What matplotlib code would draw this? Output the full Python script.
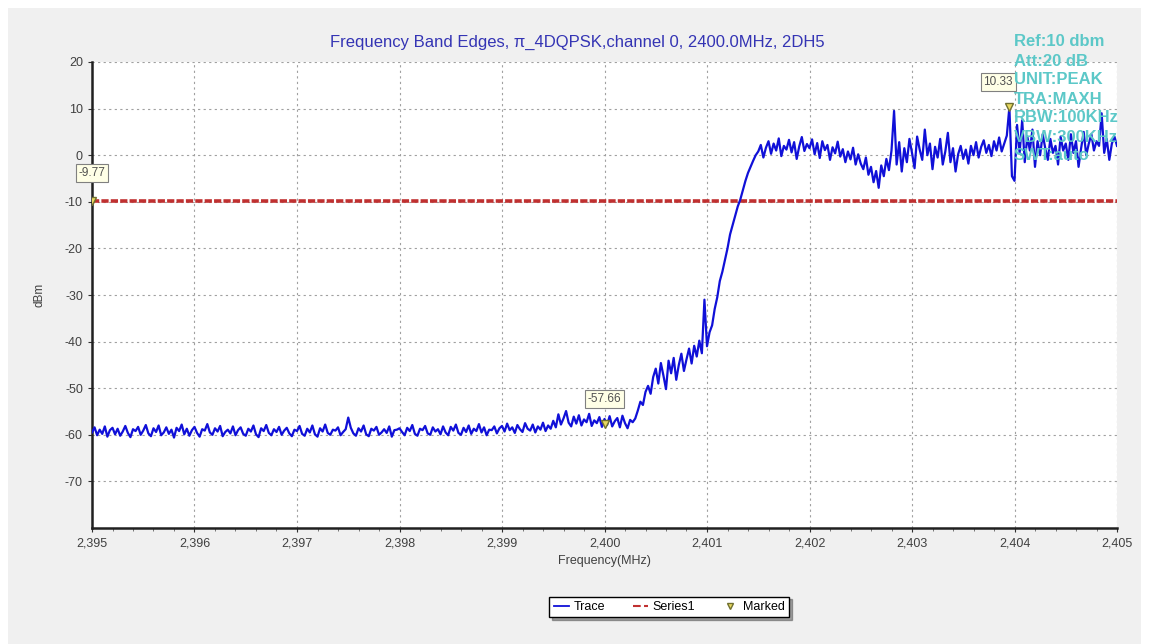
import numpy as np
import matplotlib
matplotlib.use("Agg")
import matplotlib.pyplot as plt
from matplotlib.lines import Line2D
from matplotlib.patches import Rectangle
from matplotlib.ticker import FuncFormatter, MultipleLocator

plt.rcParams['font.family'] = ['Liberation Sans', 'DejaVu Sans']
plt.rcParams['axes.unicode_minus'] = False

# trace, sampled every 0.000025 MHz from 2.395 to 2.405 (one row = 0.0005 MHz)
f_start = 2.395
f_step = 0.000025
trace_dbm = [
    -59.5, -58.4, -60.1, -58.9, -59.8, -58.2, -60.4, -59.0, -58.5, -59.9, -58.7, -60.2, -59.3, -58.1, -59.6, -60.5, -58.8, -59.2, -58.3, -60.0,
    -59.1, -57.9, -59.7, -60.3, -58.6, -59.4, -58.0, -60.1, -59.5, -58.4, -59.8, -58.9, -60.6, -58.5, -59.2, -57.8, -59.9, -58.7, -60.2, -59.0,
    -58.3, -59.6, -60.4, -58.8, -59.1, -57.7, -59.5, -60.0, -58.6, -59.3, -58.1, -60.3, -59.4, -58.9, -59.7, -58.2, -60.1, -59.0, -58.4, -59.8,
    -60.2, -58.7, -59.3, -58.0, -59.9, -60.5, -58.6, -59.2, -57.9, -59.6, -60.1, -58.8, -59.4, -58.3, -60.0, -59.1, -58.5, -59.7, -60.3, -58.9,
    -59.2, -58.1, -59.8, -60.2, -58.7, -59.5, -58.0, -59.9, -60.4, -58.6, -59.3, -57.8, -59.6, -60.0, -58.9, -59.1, -58.4, -60.1, -59.4, -58.8,
    -56.3, -58.5, -59.7, -60.2, -58.6, -59.3, -58.0, -59.9, -60.3, -58.7, -59.1, -58.3, -60.0, -59.5, -58.8, -59.6, -58.2, -60.4, -59.0, -58.9,
    -58.6, -59.4, -60.1, -58.5, -59.2, -57.9, -59.8, -60.2, -58.7, -59.0, -58.1, -59.7, -60.0, -58.4, -59.3, -58.8, -59.9, -58.2, -59.5, -60.1,
    -58.3, -59.1, -57.8, -59.6, -60.0, -58.5, -59.4, -58.0, -59.8, -58.7, -59.2, -57.7, -59.5, -58.4, -60.1, -58.9, -59.0, -58.2, -59.7, -58.6,
    -58.1, -59.3, -57.6, -59.0, -58.4, -59.6, -57.9, -58.8, -59.4, -57.5, -58.7, -59.1, -57.8, -59.5, -58.2, -58.9, -57.4, -59.2, -58.0, -58.7,
    -57.0, -58.4, -55.6, -57.8, -56.5, -54.9, -57.4, -58.2, -56.1, -57.6, -55.8, -58.0, -56.7, -57.3, -55.5, -58.1, -56.9, -57.5, -56.2, -58.3,
    -56.6, -57.9, -56.0, -58.2, -57.1, -56.4, -58.4, -55.9, -57.5, -58.6, -56.8, -57.3, -56.5, -54.8, -52.9, -53.6, -50.8, -49.5, -51.2, -47.6,
    -45.8, -49.0, -44.6, -47.3, -50.2, -44.1, -46.8, -43.5, -48.2, -45.0, -42.6, -46.3, -43.8, -41.5, -44.7, -40.9, -43.2, -39.8, -42.5, -31.0,
    -41.0, -38.0, -36.5, -33.0, -30.5, -27.0, -25.0, -22.5, -20.0, -17.0, -15.0, -13.0, -11.0, -9.5, -7.5, -5.5, -3.8, -2.5, -1.2, 0.0,
    0.8, 2.2, -0.5, 1.6, 3.0, 0.3, 2.5, 1.0, 3.6, -0.2, 2.0, 1.2, 3.3, 0.6, 2.8, -0.8, 1.9, 3.9, 0.9, 2.4,
    1.5, 3.4, 0.2, 2.6, -0.6, 3.0, 1.1, 2.2, -1.0, 1.7, 0.4, 2.9, -0.3, 1.3, -1.5, 0.8, -0.9, 1.6, -2.0, 0.2,
    -1.8, -3.0, -0.5, -4.2, -2.5, -5.8, -3.4, -7.0, -2.2, -4.5, -0.8, -3.2, 1.0, 9.5, -2.0, 2.8, -3.5, 1.5, -1.5, 3.5,
    0.5, -2.8, 4.0, 1.2, -1.0, 5.5, 0.0, 2.5, -3.0, 1.8, -0.5, 3.5, -2.0, 0.8, 4.8, -1.5, 1.5, -3.5, 0.2, 2.0,
    -0.8, 1.2, -1.8, 2.0, 0.0, 2.8, -0.5, 1.8, 3.2, 0.5, 2.2, -0.2, 3.0, 1.0, 3.8, 0.8, 2.5, 4.2, 10.3, -4.5,
    -5.5, 6.5, 0.5, 7.5, -1.5, 4.0, 1.0, 5.5, -2.5, 3.0, 0.0, 4.5, 1.5, -1.0, 3.5, 0.5, 2.0, -2.0, 4.0, 1.0,
    2.5, -1.0, 4.5, 0.5, 3.0, -2.5, 1.5, 5.0, 0.0, 2.5, 4.5, 1.0, 3.0, 2.0, 9.0, 0.5, 3.5, -1.0, 2.5, 4.0,
    2.0,
]
limit_dbm = -9.77
marked_f = [2.395, 2.4000, 2.40395]
marked_dbm = [-9.77, -57.66, 10.33]
marked_txt = ["-9.77", "-57.66", "10.33"]
info_lines = ["Ref:10 dbm", "Att:20 dB", "UNIT:PEAK", "TRA:MAXH",
              "RBW:100KHz", "VBW:300KHz", "SWT:auto"]
title = "Frequency Band Edges, \u03c0_4DQPSK,channel 0, 2400.0MHz, 2DH5"

freq = f_start + f_step * np.arange(len(trace_dbm))

fig = plt.figure(figsize=(11.49, 6.44), dpi=100, facecolor='white')
fig.patches.append(Rectangle((8 / 1149, 0), 1 - 16 / 1149, 1 - 8 / 644,
                             transform=fig.transFigure, facecolor='#f0f0f0',
                             edgecolor='none', zorder=-10))

ax = fig.add_axes([92 / 1149, 1 - 528 / 644, (1117 - 92) / 1149, (528 - 62) / 644])
ax.set_facecolor('white')

ax.plot(freq, trace_dbm, color='#1010d8', lw=1.6, zorder=3)
ax.axhline(limit_dbm, color='#c03030', lw=2.6, ls=(0, (2, 0.6)), zorder=2)
ax.plot(marked_f, marked_dbm, ls='none', marker='v', ms=6,
        mfc='#e8d860', mec='#707030', zorder=5)

offs = [(0, 20), (0, 18), (-8, 18)]
for f, v, t, o in zip(marked_f, marked_dbm, marked_txt, offs):
    ax.annotate(t, (f, v), xytext=o, textcoords='offset points', ha='center',
                va='center', fontsize=8.5, color='#505050', zorder=6,
                bbox=dict(boxstyle='square,pad=0.25', fc='#ffffe6', ec='#808080', lw=0.8),
                annotation_clip=False)

ax.set_xlim(2.395, 2.405)
ax.set_ylim(-80, 20)
ax.set_yticks(np.arange(-70, 21, 10))
ax.xaxis.set_major_locator(MultipleLocator(0.001))
ax.xaxis.set_minor_locator(MultipleLocator(0.0002))
ax.xaxis.set_major_formatter(FuncFormatter(lambda x, p: f"{x:.3f}".replace('.', ',')))
ax.grid(True, which='major', color='#a0a0a0', ls=(0, (2, 3)), lw=0.8)
ax.tick_params(labelsize=9, labelcolor='#404040', length=3, color='#303030')
ax.tick_params(which='minor', length=2, color='#606060')
for s in ['top', 'right']:
    ax.spines[s].set_visible(False)
for s in ['left', 'bottom']:
    ax.spines[s].set_linewidth(1.8)
    ax.spines[s].set_color('#202020')

ax.set_xlabel("Frequency(MHz)", fontsize=9, color='#404040', labelpad=4)
ax.set_ylabel("dBm", fontsize=8.5, color='#404040', labelpad=14)
fig.text(577 / 1149, 1 - 42 / 644, title, ha='center', va='center',
         fontsize=12, color='#3434b4')

for k, line in enumerate(info_lines):
    fig.text(1014 / 1149, 1 - (42 + 19 * k) / 644, line, ha='left', va='center',
             fontsize=12, color='#5cc8c8', fontweight='bold', zorder=1)

handles = [Line2D([], [], color='#1010d8', lw=1.3),
           Line2D([], [], color='#c03030', lw=1.5, ls='--'),
           Line2D([], [], ls='none', marker='v', ms=5, mfc='#e8d860', mec='#707030')]
leg = fig.legend(handles, ["Trace", "Series1", "Marked"], loc='center',
                 bbox_to_anchor=(669 / 1149, 1 - 607 / 644), ncol=3, fontsize=9,
                 frameon=True, fancybox=False, shadow=True, handlelength=1.2,
                 handletextpad=0.4, columnspacing=2.2, borderpad=0.35)
leg.get_frame().set_edgecolor('black')
leg.get_frame().set_linewidth(1.0)

fig.savefig("out.png", dpi=100)
